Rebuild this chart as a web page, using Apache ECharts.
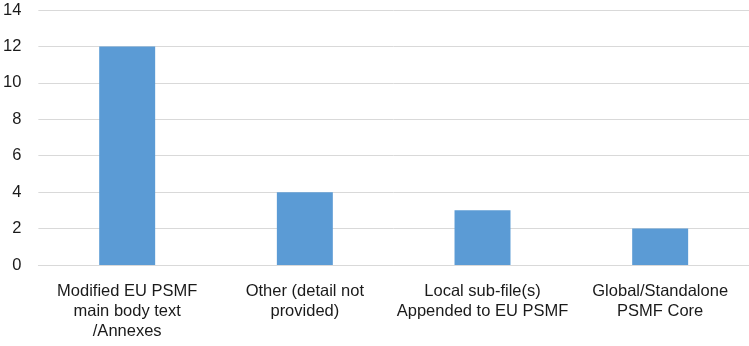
<!DOCTYPE html>
<html>
<head>
<meta charset="utf-8">
<script src="https://cdn.jsdelivr.net/npm/echarts@6/dist/echarts.min.js"></script>
<style>
  html, body { margin: 0; padding: 0; background: #fff; }
  #main { width: 749px; height: 346px; }
</style>
</head>
<body>
<div id="main"></div>
<script>
// categories and values
var categories = [
  'Modified EU PSMF\nmain body text\n/Annexes',
  'Other (detail not\nprovided)',
  'Local sub-file(s)\nAppended to EU PSMF',
  'Global/Standalone\nPSMF Core'
];
var counts = [12, 4, 3, 2];

var labelFont = '"Liberation Sans", Arial, sans-serif';

var myChart = echarts.init(document.getElementById('main'));
var option = {
  animation: false,
  grid: { left: 37, right: 0, top: 10, bottom: 81 },
  xAxis: {
    type: 'category',
    data: categories,
    axisLine: { show: true, lineStyle: { color: '#d9d9d9' } },
    axisTick: { show: false },
    axisLabel: {
      interval: 0,
      margin: 16,
      color: '#1a1a1a',
      fontSize: 16.5,
      lineHeight: 20,
      fontFamily: labelFont
    }
  },
  yAxis: {
    type: 'value',
    min: 0,
    max: 14,
    interval: 2,
    axisLine: { show: false },
    axisTick: { show: false },
    splitLine: { lineStyle: { color: '#d9d9d9', width: 1 } },
    axisLabel: {
      margin: 17,
      color: '#1a1a1a',
      fontSize: 16.5,
      fontFamily: labelFont
    }
  },
  series: [{
    type: 'bar',
    data: counts,
    barWidth: '31.5%',
    itemStyle: { color: '#5b9bd5' }
  }]
};
myChart.setOption(option);
</script>
</body>
</html>
